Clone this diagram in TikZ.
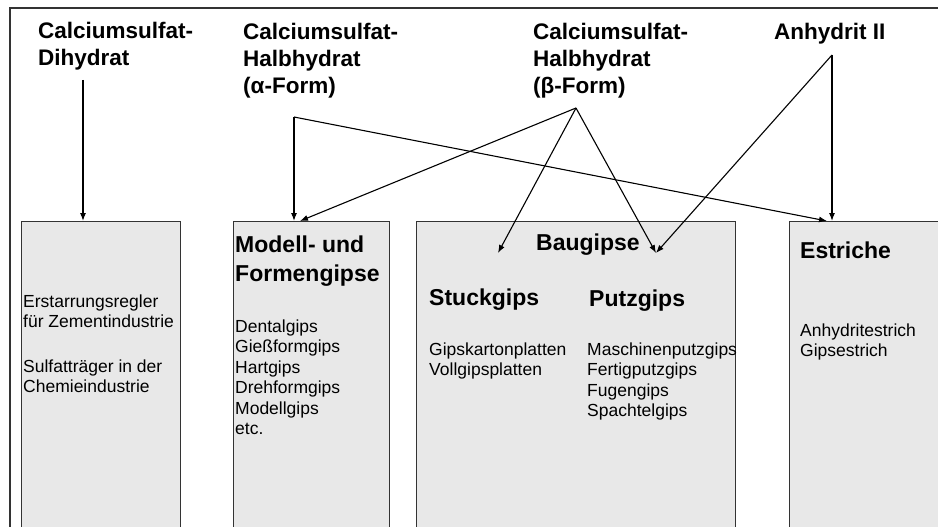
\documentclass[tikz,border=0pt]{standalone}
\usepackage{fontspec}
\setmainfont{Liberation Sans}
\usepackage{xcolor}
\definecolor{boxgray}{RGB}{232,232,232}
\definecolor{edgegray}{RGB}{51,51,51}
\usetikzlibrary{arrows.meta}

\begin{document}
\begin{tikzpicture}[x=1pt, y=-1pt,
  head/.style={anchor=base west, inner sep=0pt, align=left, font=\fontsize{22.5}{27}\selectfont\bfseries},
  title/.style={anchor=base west, inner sep=0pt, align=left, font=\fontsize{23}{29}\selectfont\bfseries},
  list/.style={anchor=base west, inner sep=0pt, align=left, font=\fontsize{17.5}{20.5}\selectfont},
  kasten/.style={draw=edgegray, line width=1.3pt, fill=boxgray, anchor=north west, inner sep=0pt, minimum height=320pt},
  pfeil/.style={-{Latex[length=8pt,width=6pt]}, line width=1.1pt}]
\useasboundingbox (0,0) rectangle (938,527);
\clip (0,0) rectangle (938,527);

% Outer frame
\draw[line width=1.2pt, edgegray] (10,540) -- (10,8) -- (950,8);

% Boxes
\node[kasten, minimum width=159pt] (zem) at (21,221) {};
\node[kasten, minimum width=156pt] (modell) at (233,221) {};
\node[kasten, minimum width=319pt] (bau) at (416,221) {};
\node[kasten, minimum width=170pt] (estr) at (789,221) {};

% Raw materials (placed at the baseline of the last line)
\node[head] (dihy) at (38,66) {Calciumsulfat-\\Dihydrat};
\node[head] (alpha) at (243,93) {Calciumsulfat-\\Halbhydrat\\(α-Form)};
\node[head] (beta) at (533,93) {Calciumsulfat-\\Halbhydrat\\(β-Form)};
\node[head] (anh) at (774,40) {Anhydrit II};

% Arrow start and end points
\coordinate (dihyout) at (83,80);
\coordinate (alphaout) at (294,117);
\coordinate (betaout) at (576,108);
\coordinate (anhout) at (832,55);
\coordinate (stuckin) at (498,253);
\coordinate (putzin) at (656,253);

% Arrows
\draw[pfeil] (dihyout) -- (dihyout |- zem.north);
\draw[pfeil] (alphaout) -- (alphaout |- modell.north);
\draw[pfeil] (alphaout) -- ([xshift=-5pt]anhout |- estr.north);
\draw[pfeil] (betaout) -- ([xshift=6pt]alphaout |- modell.north);
\draw[pfeil] (betaout) -- (stuckin);
\draw[pfeil] (betaout) -- (putzin);
\draw[pfeil] (anhout) -- (putzin);
\draw[pfeil] (anhout) -- (anhout |- estr.north);

% Cement and chemistry
\node[list] (zemtext) at (23,392.5) {Erstarrungsregler\\für Zementindustrie\\[24pt]Sulfatträger in der\\Chemieindustrie};

% Model plaster
\node[title] (modelltitle) at (235,281) {Modell- und\\Formengipse};
\node[list] (modelltext) at (235,434.5) {Dentalgips\\Gießformgips\\Hartgips\\Drehformgips\\Modellgips\\etc.};

% Building plaster
\node[title] (bautitle) at (536,250) {Baugipse};
\node[title] (stuck) at (429,305) {Stuckgips};
\node[title] (putz) at (589,306) {Putzgips};
\node[list] (stucktext) at (429,375.5) {Gipskartonplatten\\Vollgipsplatten};
\node[list] (putztext) at (587,416.5) {Maschinenputzgips\\Fertigputzgips\\Fugengips\\Spachtelgips};

% Screeds
\node[title] (estrtitle) at (800,258) {Estriche};
\node[list] (estrtext) at (800,356.5) {Anhydritestrich\\Gipsestrich};
\end{tikzpicture}
\end{document}
